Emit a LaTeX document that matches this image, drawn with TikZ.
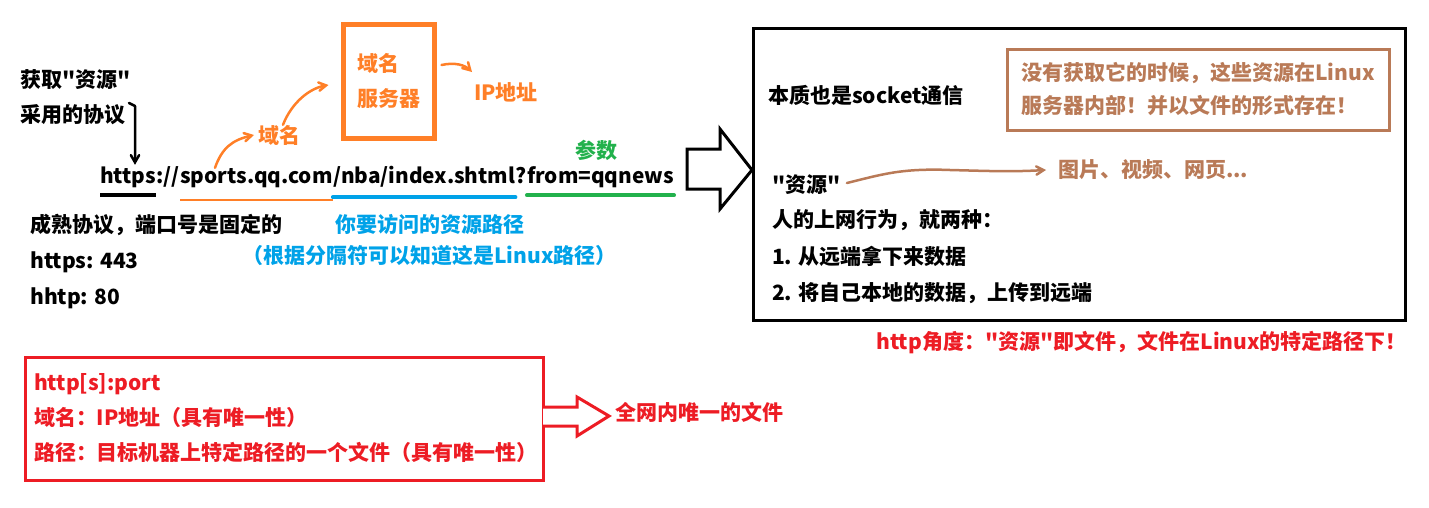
\documentclass[tikz,border=0pt]{standalone}
\usepackage{fontspec}
\setmainfont{Noto Sans CJK SC}[Ligatures=TeXOff]
\usetikzlibrary{calc, positioning, arrows}
\definecolor{pntorange}{HTML}{FF7F27}
\definecolor{pntblue}{HTML}{00A2E8}
\definecolor{pntgreen}{HTML}{22B14C}
\definecolor{pntbrown}{HTML}{B97A57}
\definecolor{pntred}{HTML}{ED1C24}
\tikzstyle{txt}     = [anchor=west, inner sep=0pt, font=\fontsize{21}{35}\selectfont\bfseries]
\tikzstyle{urlpart} = [inner sep=0pt, text height=15pt, text depth=5pt, font=\fontsize{20.8}{25}\selectfont\bfseries]
\tikzstyle{pen}     = [line width=2.5pt, ->, >=angle 60, line cap=round, line join=round]
\tikzstyle{uline}   = [line width=4pt, line cap=round]
\tikzstyle{frame}   = [draw, line width=3pt, inner sep=0pt]
\tikzstyle{fat}     = [line width=3pt, line join=miter, fill=white]

\begin{document}
\begin{tikzpicture}[x=1pt, y=-1pt]
    \useasboundingbox (0,0) rectangle (1429,507);

    % the url, piece by piece
    \node (proto)  [urlpart, anchor=west] at (100,178) {https};
    \node (sep)    [urlpart, right=0pt of proto] {://};
    \node (host)   [urlpart, right=0pt of sep] {sports.qq.com};
    \node (path)   [urlpart, right=0pt of host] {/nba/index.shtml};
    \node (qmark)  [urlpart, right=0pt of path] {?};
    \node (query)  [urlpart, right=0pt of qmark] {from=qqnews};

    \draw [uline, line cap=butt] ([yshift=-7pt]proto.south west) -- ([yshift=-7pt]proto.south east);
    \draw [line width=2pt, pntorange] ([yshift=-12pt]host.south west) -- ([yshift=-12pt]host.south east);
    \draw [uline, pntblue] ([yshift=-9pt]path.south west) -- ([yshift=-9pt]path.south east);
    \draw [uline, pntgreen] ([yshift=-7pt]query.south west) -- ([yshift=-7pt]query.south east);

    % left notes
    \node (getres) [txt] at (20,80)  {获取"资源"};
    \node (usep)   [txt] at (20,115) {采用的协议};
    \node (mature) [txt] at (30,225) {成熟协议，端口号是固定的};
    \node (p443)   [txt] at (30,262) {https: 443};
    \node (p80)    [txt] at (30,298) {hhtp: 80};
    \draw [pen] (129,103) -- (135,106) -- ([yshift=3pt]proto.north -| 135,0);

    \node (pathlbl)  [txt, text=pntblue] at (335,224) {你要访问的资源路径};
    \node (pathnote) [txt, text=pntblue] at (242,256) {（根据分隔符可以知道这是Linux路径）};
    \node (paramlbl) [txt, text=pntgreen] at (575,150) {参数};

    % domain name lookup
    \node (domainlbl) [txt, text=pntorange] at (258,135) {域名};
    \node (dns) [draw=pntorange, line width=5pt, minimum width=91pt, minimum height=114pt,
                 align=left, text=pntorange, font=\fontsize{21}{35}\selectfont\bfseries] at (388.5,81) {域名\\服务器};
    \node (iplbl) [txt, text=pntorange] at (474,92) {IP地址};

    \draw [pen, pntorange] ([xshift=35pt]host.north west) .. controls (222,148) and (232,140) .. ([xshift=-4pt]domainlbl.west);
    \draw [pen, pntorange] ([xshift=25pt]domainlbl.north west) .. controls (292,102) and (310,88) .. ([xshift=-12pt, yshift=-4pt]dns.west);
    \draw [pen, pntorange] ([xshift=5pt, yshift=16pt]dns.east) .. controls (455,62) and (465,65) .. (472,72);

    % into the big box
    \draw [fat] (687,149) -- (720,149) -- (720,129) -- (752,170) -- (720,209) -- (720,189) -- (687,189) -- cycle;
    \node (bigbox) [frame, minimum width=652pt, minimum height=292pt] at (1079,174) {};

    \node (socket) [txt] at (768,95) {本质也是socket通信};
    \node (store) [frame, draw=pntbrown, text=pntbrown, minimum width=382pt, minimum height=81pt,
                   align=left, font=\fontsize{21}{33}\selectfont\bfseries] at (1198,89.5)
          {没有获取它的时候，这些资源在Linux\\服务器内部！并以文件的形式存在！};
    \node (resq)  [txt] at (772,185) {"资源"};
    \node (media) [txt, text=pntbrown] at (1058,170) {图片、视频、网页...};
    \draw [pen, pntbrown] ([xshift=6pt, yshift=2pt]resq.east) .. controls (880,175) and (900,168) .. (950,170)
          .. controls (990,171) and (1010,172) .. ([xshift=-12pt]media.west);

    \node (kinds) [txt] at (772,220) {人的上网行为，就两种：};
    \node (one)   [txt] at (772,256) {1. 从远端拿下来数据};
    \node (two)   [txt] at (772,293) {2. 将自己本地的数据，上传到远端};

    \node (angle) [txt, text=pntred] at (876,343) {http角度："资源"即文件，文件在Linux的特定路径下！};

    % summary
    \node (sum) [frame, draw=pntred, text=pntred, minimum width=518pt, minimum height=123pt,
                 text width=500pt, align=left, font=\fontsize{21}{35}\selectfont\bfseries] at (284,418.5)
          {http[s]:port\\域名：IP地址（具有唯一性）\\路径：目标机器上特定路径的一个文件（具有唯一性）};
    \draw [fat, draw=pntred] (543,407) -- (577,407) -- (577,397) -- (609,416) -- (577,436) -- (577,426) -- (543,426);
    \node (unique) [txt, text=pntred] at (615,412) {全网内唯一的文件};

\end{tikzpicture}
\end{document}
